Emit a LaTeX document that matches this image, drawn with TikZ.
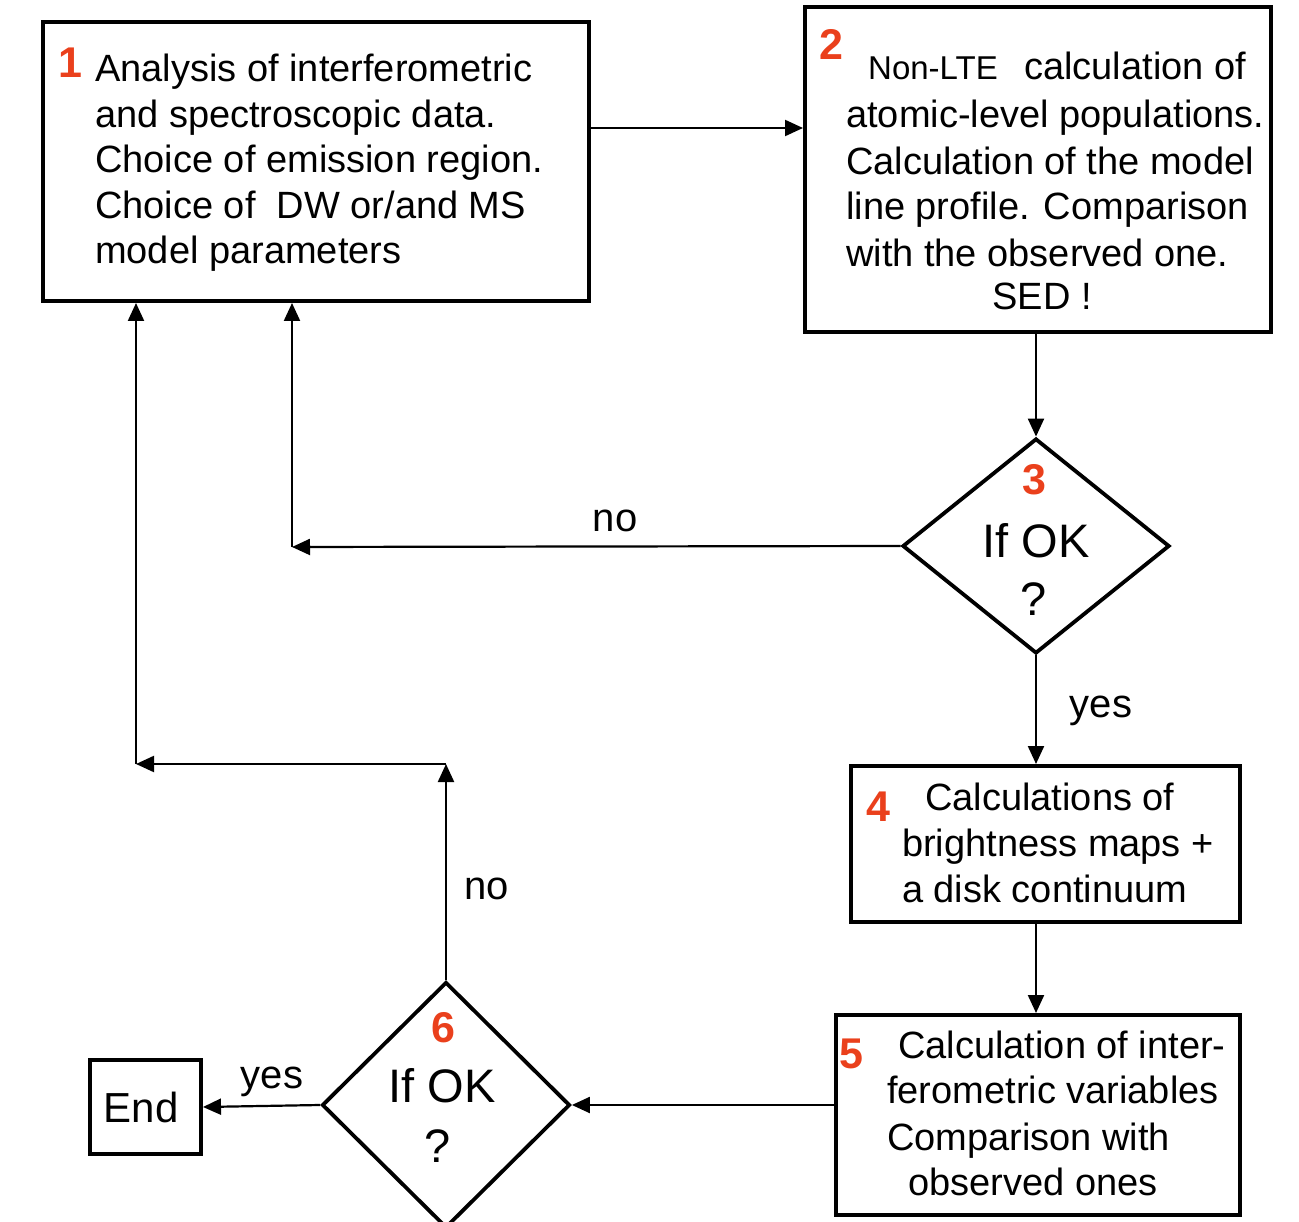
\documentclass[tikz,border=0pt]{standalone}
\usepackage{fontspec}
\setmainfont{Liberation Sans}
\usetikzlibrary{arrows.meta,shapes.geometric}
\definecolor{numred}{RGB}{234,64,28}
\newcommand\setfs[1]{\fontsize{#1}{#1}\selectfont}
\begin{document}
\begin{tikzpicture}[x=1pt,y=-1pt,
  box/.style={draw,line width=4pt,inner sep=0,anchor=north west},
  dia/.style={draw,shape=diamond,line width=3.8pt,inner sep=0},
  conn/.style={line width=2.2pt,-{Triangle[length=18pt,width=16pt]}},
  txt/.style={inner sep=0,anchor=base west,font=\setfs{38}},
  ctxt/.style={inner sep=0,anchor=base,font=\setfs{38}},
  num/.style={inner sep=0,anchor=base west,font=\setfs{43}\bfseries,text=numred},
]
\useasboundingbox (0,0) rectangle (1299,1222);
\clip (0,0) rectangle (1299,1222);
% boxes
\node[box,minimum width=546pt,minimum height=279pt] (b1) at (41,20) {};
\node[box,minimum width=466pt,minimum height=325pt] (b2) at (803,5) {};
\node[box,minimum width=389pt,minimum height=156pt] (b4) at (849,764) {};
\node[box,minimum width=404pt,minimum height=200pt] (b5) at (834,1013) {};
\node[box,minimum width=111pt,minimum height=94pt] (e) at (88,1058) {};
\node[dia,minimum width=267pt,minimum height=215pt] (d3) at (1036,546) {};
\node[dia,minimum width=248pt,minimum height=246pt] (d6) at (446,1105) {};
% box 1 text
\node[num] (n1) at (58,78) {1};
\node[txt] (t1a) at (95,82) {Analysis of interferometric};
\node[txt] (t1b) at (95,127.5) {and spectroscopic data.};
\node[txt] (t1c) at (95,173) {Choice of emission region.};
\node[txt] (t1d) at (95,218.5) {Choice of\ \ DW or/and MS};
\node[txt] (t1e) at (95,264) {model parameters};
% box 2 text
\node[num] (n2) at (819,60) {2};
\node[txt,font=\setfs{33}] (t2x) at (868,80) {Non-LTE};
\node[txt] (t2a) at (1024,80) {calculation of};
\node[txt] (t2b) at (846,128) {atomic-level populations.};
\node[txt] (t2c) at (846,175) {Calculation of the model};
\node[txt] (t2d) at (846,220) {line profile. Comparison};
\node[txt] (t2e) at (846,267) {with the observed one.};
\node[ctxt] (t2f) at (1042,310) {SED !};
% diamond 3 text
\node[num,anchor=base] (n3) at (1034,494) {3};
\node[ctxt,font=\setfs{47}] (q3a) at (1036,557) {If OK};
\node[ctxt,font=\setfs{47}] (q3b) at (1034,615) {?};
% box 4 text
\node[num] (n4) at (866,821) {4};
\node[txt] (t4a) at (925,810) {Calculations of};
\node[txt] (t4b) at (902,856) {brightness maps +};
\node[txt] (t4c) at (902,902) {a disk continuum};
% box 5 text
\node[num] (n5) at (839,1068) {5};
\node[txt] (t5a) at (898,1058) {Calculation of inter-};
\node[txt] (t5b) at (887,1103) {ferometric variables};
\node[txt] (t5c) at (887,1150) {Comparison with};
\node[txt] (t5d) at (908,1195) {observed ones};
% diamond 6 text
\node[num,anchor=base] (n6) at (443,1042) {6};
\node[ctxt,font=\setfs{47}] (q6a) at (442,1102) {If OK};
\node[ctxt,font=\setfs{47}] (q6b) at (438,1162) {?};
% end
\node[ctxt,font=\setfs{42}] (te) at (141,1122) {End};
% labels
\node[ctxt,font=\setfs{40}] (l1) at (615,531) {no};
\node[ctxt,font=\setfs{40}] (l2) at (1101,717) {yes};
\node[ctxt,font=\setfs{40}] (l3) at (487,899) {no};
\node[ctxt,font=\setfs{40}] (l4) at (272,1088) {yes};
% connectors
\coordinate (y128) at (0,128);
\coordinate (k3) at (292,547);
\coordinate (k6) at (446,764);
\coordinate (k7) at (136,764);
\draw[conn] (b1.east |- y128) -- (b2.west |- y128);
\draw[conn] (b2.south -| d3.north) -- (d3.north);
\draw[conn] (d3.west) -- (k3);
\draw[conn] (k3) -- (k3 |- b1.south);
\draw[conn] (d3.south) -- (d3.south |- b4.north);
\draw[conn] (d3.south |- b4.south) -- (d3.south |- b5.north);
\draw[conn] (b5.west |- d6.east) -- (d6.east);
\draw[conn] (d6.west) -- (e.east);
\draw[conn] (d6.north) -- (k6);
\draw[conn] (k6) -- (k7);
\draw[conn] (k7) -- (k7 |- b1.south);
\end{tikzpicture}
\end{document}
